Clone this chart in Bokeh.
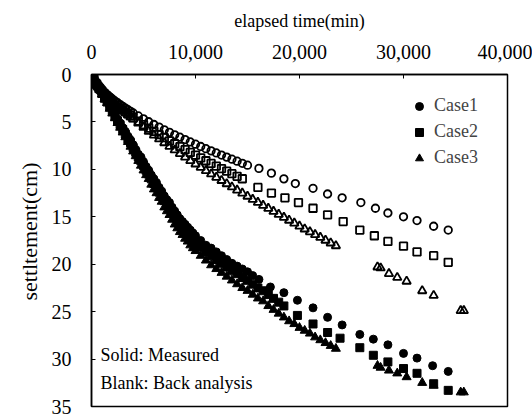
from bokeh.plotting import figure
from bokeh.models import (Range1d, FixedTicker, NumeralTickFormatter, Legend, LegendItem,
                          Label, Title)
from bokeh.embed import file_html
from bokeh.resources import INLINE

# ---------------- data (elapsed time in min, settlement in cm) ----------------
t_meas = [0, 250, 500, 750, 1000, 1250, 1500, 1750, 2000, 2250, 2500, 2750, 3000, 3250,
          3500, 3750, 4000, 4250, 4500, 4750, 5000, 5250, 5500, 5750, 6000, 6250, 6500,
          6750, 7000, 7250, 7500, 7750, 8000, 8250, 8500, 8750, 9000, 9250, 9500, 9750,
          10000, 10500, 11000, 11500, 12000, 12500, 13000, 13500, 14000, 14500, 15000,
          15500, 16000, 16500, 17000, 17500, 18000, 18500, 19000, 19500, 20000, 20500,
          21000, 21500, 22000, 22500, 23000, 23500]

case1_meas_dense = [0, 0.5, 1.0, 1.4, 1.9, 2.4, 2.8, 3.3, 3.7, 4.2, 4.7, 5.1, 5.6, 6.0, 6.5,
                    6.9, 7.4, 7.9, 8.4, 8.7, 9.2, 9.7, 10.1, 10.6, 11.0, 11.4, 11.9, 12.3,
                    12.8, 13.2, 13.5, 14.0, 14.4, 14.8, 15.2, 15.5, 15.8, 16.1, 16.4, 16.7,
                    17.0, 17.5, 18.0, 18.3, 18.7, 19.1, 19.5, 19.9, 20.2, 20.5, 20.8, 21.2]
case1_meas_t_late = [16100, 17200, 18500, 19800, 21300, 22700, 24100, 25800, 27100, 28500,
                     30000, 31300, 32800, 34300]
case1_meas_late = [21.6, 22.4, 23.0, 23.8, 24.6, 25.6, 26.4, 27.4, 27.9, 28.5, 29.4, 29.9,
                   30.7, 31.3]

case2_meas_dense = [0, 0.5, 1.0, 1.5, 2.0, 2.5, 2.9, 3.4, 3.9, 4.4, 4.9, 5.3, 5.8, 6.3, 6.8,
                    7.2, 7.7, 8.2, 8.7, 9.1, 9.6, 10.1, 10.5, 11.0, 11.5, 11.9, 12.4, 12.8,
                    13.3, 13.7, 14.1, 14.6, 15.0, 15.4, 15.8, 16.1, 16.5, 16.8, 17.1, 17.4,
                    17.7, 18.2, 18.7, 19.1, 19.5, 19.9, 20.3, 20.7, 21.0, 21.4, 21.7, 22.1,
                    22.5, 22.8, 23.2, 23.6, 24.0, 24.4]
case2_meas_t_late = [19800, 21300, 22700, 23900, 25800, 27100, 28500, 30000, 31300, 32900, 34300]
case2_meas_late = [25.4, 26.3, 27.2, 27.8, 28.8, 29.6, 30.3, 31.0, 31.5, 32.6, 33.3]

case3_meas_dense = [0, 0.5, 1.1, 1.6, 2.1, 2.6, 3.0, 3.6, 4.1, 4.6, 5.1, 5.6, 6.1, 6.6, 7.1,
                    7.6, 8.1, 8.6, 9.1, 9.6, 10.1, 10.6, 11.0, 11.6, 12.1, 12.5, 13.0, 13.4,
                    14.0, 14.4, 14.8, 15.3, 15.8, 16.2, 16.6, 16.9, 17.3, 17.6, 18.0, 18.3,
                    18.6, 19.1, 19.6, 20.1, 20.5, 20.9, 21.3, 21.7, 22.1, 22.5, 22.8, 23.2,
                    23.6, 23.9, 24.4, 24.8, 25.2, 25.6, 26.0, 26.3, 26.7, 27.0, 27.3, 27.7,
                    28.0, 28.3, 28.6, 28.9]
case3_t_late = [27500, 27800, 28600, 29400, 30300, 31800, 32900, 35500, 35800]
case3_meas_late = [30.7, 30.9, 31.2, 31.5, 31.9, 32.5, 32.8, 33.5, 33.5]

t_back = [0, 50, 100, 150, 200, 300, 400, 500, 600, 700, 800, 900, 1000, 1200, 1400, 1600,
          1800, 2000, 2250, 2500, 2750, 3000, 3250, 3500, 3750, 4000, 4500, 5000, 5500,
          6000, 6500, 7000, 7500, 8000, 8500, 9000, 9500, 10000, 10500, 11000, 11500,
          12000, 12500, 13000, 13500, 14000, 14500, 15000, 15500, 16000, 16500, 17000,
          17500, 18000, 18500, 19000, 19500, 20000, 20500, 21000, 21500, 22000, 22500,
          23000, 23500]

case1_back_dense = [0, 0.23, 0.37, 0.48, 0.58, 0.75, 0.91, 1.05, 1.18, 1.30, 1.42, 1.54, 1.65,
                    1.85, 2.05, 2.23, 2.41, 2.58, 2.79, 2.98, 3.17, 3.36, 3.54, 3.71, 3.88,
                    4.05, 4.37, 4.68, 4.98, 5.27, 5.55, 5.83, 6.10, 6.36, 6.61, 6.86, 7.11,
                    7.35, 7.59, 7.82, 8.05, 8.27, 8.49, 8.71, 8.93, 9.14, 9.36, 9.56]
case1_back_t_late = [16100, 17300, 18500, 19600, 21300, 22700, 24100, 25900, 27300, 28500,
                     30000, 31300, 32900, 34300]
case1_back_late = [9.9, 10.4, 11.0, 11.5, 12.0, 12.6, 13.0, 13.5, 14.1, 14.6, 15.0, 15.4,
                   16.0, 16.4]

case2_back_dense = [0, 0.22, 0.36, 0.48, 0.58, 0.77, 0.93, 1.09, 1.23, 1.37, 1.50, 1.63, 1.75,
                    1.98, 2.21, 2.42, 2.62, 2.82, 3.05, 3.28, 3.51, 3.72, 3.93, 4.14, 4.34,
                    4.54, 4.92, 5.29, 5.65, 5.99, 6.33, 6.66, 6.99, 7.30, 7.61, 7.92, 8.21,
                    8.51, 8.80, 9.09, 9.37, 9.65, 9.92, 10.19, 10.46, 10.73, 10.99]
case2_back_t_late = [16000, 17300, 18600, 19900, 21300, 22700, 24200, 25800, 27200, 28500,
                     30000, 31300, 32900, 34300]
case2_back_late = [11.9, 12.5, 13.0, 13.5, 14.1, 14.8, 15.5, 16.4, 17.0, 17.6, 18.1, 18.7,
                   19.1, 19.8]

case3_back_dense = [0, 0.17, 0.29, 0.39, 0.48, 0.66, 0.82, 0.97, 1.11, 1.25, 1.38, 1.51, 1.64,
                    1.88, 2.12, 2.34, 2.56, 2.78, 3.04, 3.29, 3.54, 3.78, 4.02, 4.25, 4.48,
                    4.70, 5.14, 5.57, 5.99, 6.40, 6.80, 7.20, 7.58, 7.96, 8.34, 8.71, 9.08,
                    9.44, 9.79, 10.14, 10.49, 10.84, 11.18, 11.52, 11.86, 12.19, 12.51, 12.84,
                    13.17, 13.49, 13.80, 14.12, 14.44, 14.75, 15.06, 15.37, 15.67, 15.99,
                    16.29, 16.59, 16.89, 17.18, 17.48, 17.77, 18.06]
case3_back_late = [20.3, 20.4, 21.0, 21.4, 21.8, 22.8, 23.3, 24.9, 24.9]

x_ticks = [0, 10000, 20000, 30000, 40000]
y_ticks = [0, 5, 10, 15, 20, 25, 30, 35]
case_names = ["Case1", "Case2", "Case3"]

FONT = "Liberation Serif"

p = figure(width=532, height=417, x_range=Range1d(0, 40000), y_range=Range1d(35, 0),
           x_axis_location="above", output_backend="svg", toolbar_location=None,
           min_border_left=91, min_border_right=25, min_border_top=74, min_border_bottom=11)
p.xgrid.visible = False
p.ygrid.visible = False
p.outline_line_color = "black"
p.outline_line_width = 1.5
p.background_fill_color = "white"
p.border_fill_color = "white"

xa = p.xaxis[0]
xa.ticker = FixedTicker(ticks=x_ticks)
xa.formatter = NumeralTickFormatter(format="0,0")
xa.axis_label = "elapsed time(min)"
ya = p.yaxis[0]
ya.ticker = FixedTicker(ticks=y_ticks)
for ax in (xa, ya):
    ax.axis_line_color = "black"
    ax.axis_line_width = 1.5
    ax.major_tick_in = 4
    ax.major_tick_out = 0
    ax.minor_tick_in = 0
    ax.minor_tick_out = 0
    ax.major_tick_line_color = "black"
    ax.major_label_text_font = FONT
    ax.major_label_text_font_size = "20px"
    ax.major_label_text_color = "black"
    ax.axis_label_text_font = FONT
    ax.axis_label_text_font_style = "normal"
    ax.axis_label_text_color = "black"
xa.axis_label_text_font_size = "18px"
xa.major_label_standoff = 16
xa.axis_label_standoff = 11
ya.major_label_standoff = 20

# y title, set a little above the frame centre as in the reference
p.add_layout(Title(text="settltement(cm)", align="right", offset=88, standoff=14,
                   text_font=FONT, text_font_size="22px", text_font_style="normal",
                   text_color="black"), "left")

def series(t_dense, y_dense, t_late, y_late):
    return list(t_dense[:len(y_dense)]) + list(t_late), list(y_dense) + list(y_late)

bx1, by1 = series(t_back, case1_back_dense, case1_back_t_late, case1_back_late)
bx2, by2 = series(t_back, case2_back_dense, case2_back_t_late, case2_back_late)
bx3, by3 = series(t_back, case3_back_dense, case3_t_late, case3_back_late)
p.scatter(bx1, by1, marker="circle", size=7.5, fill_color=None, line_color="black", line_width=1.8)
p.scatter(bx2, by2, marker="square", size=7.5, fill_color=None, line_color="black", line_width=1.8)
p.scatter(bx3, by3, marker="triangle", size=8.5, fill_color=None, line_color="black", line_width=1.8)

mx1, my1 = series(t_meas, case1_meas_dense, case1_meas_t_late, case1_meas_late)
mx2, my2 = series(t_meas, case2_meas_dense, case2_meas_t_late, case2_meas_late)
mx3, my3 = series(t_meas, case3_meas_dense, case3_t_late, case3_meas_late)
r1 = p.scatter(mx1, my1, marker="circle", size=8, fill_color="black", line_color="black")
r2 = p.scatter(mx2, my2, marker="square", size=8, fill_color="black", line_color="black")
r3 = p.scatter(mx3, my3, marker="triangle", size=9, fill_color="black", line_color="black")

legend = Legend(items=[LegendItem(label=case_names[0], renderers=[r1]),
                       LegendItem(label=case_names[1], renderers=[r2]),
                       LegendItem(label=case_names[2], renderers=[r3])],
                location=(318, 238), orientation="vertical")
legend.border_line_color = None
legend.background_fill_alpha = 0
legend.padding = 0
legend.margin = 0
legend.spacing = 5
legend.label_height = 20
legend.glyph_height = 20
legend.glyph_width = 20
legend.label_standoff = 5
legend.label_text_font = FONT
legend.label_text_font_size = "18px"
p.add_layout(legend)

p.add_layout(Label(x=870, y=29.6, text="Solid: Measured", text_baseline="middle",
                   text_font=FONT, text_font_size="18px", text_color="black"))
p.add_layout(Label(x=870, y=32.5, text="Blank: Back analysis", text_baseline="middle",
                   text_font=FONT, text_font_size="18px", text_color="black"))

open("out.html", "w").write(file_html(p, INLINE))
